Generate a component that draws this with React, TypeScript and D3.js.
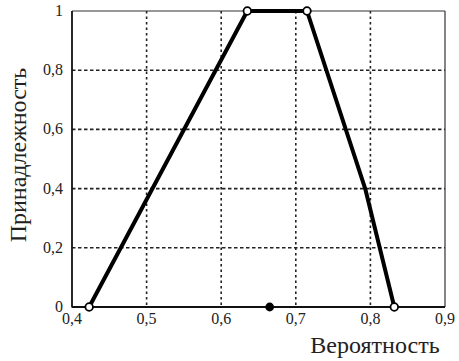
import React from "react";
import * as d3 from "d3";

const xTicks = [0.4, 0.5, 0.6, 0.7, 0.8, 0.9];
const yTicks = [0, 0.2, 0.4, 0.6, 0.8, 1];
const curveX = [0.423, 0.635, 0.715, 0.793, 0.832];
const curveY = [0, 1, 1, 0.4, 0];
const markerX = [0.423, 0.635, 0.715, 0.832];
const markerY = [0, 1, 1, 0];
const pointX = [0.665];
const pointY = [0];

const W = 459, H = 361;
const L = 72, R = 445, T = 11, B = 307;
const FONT = "Liberation Serif";

const fmt = (v: number) => (v === 0 ? "0" : v === 1 ? "1" : String(v).replace(".", ","));

export default function App() {
  const x = d3.scaleLinear().domain([0.4, 0.9]).range([L, R]);
  const y = d3.scaleLinear().domain([0, 1]).range([B, T]);
  const line = d3.line<number>().x((_, i) => x(curveX[i])).y((_, i) => y(curveY[i]));
  const ts = { fontFamily: FONT };
  return (
    <svg width={W} height={H} style={{ position: "absolute", left: 0, top: 0, background: "#fff", fontFamily: FONT }}>
      <rect x={0} y={0} width={W} height={H} fill="#fff" />
      {xTicks.slice(1, -1).map((t) => (
        <line key={"gx" + t} x1={x(t)} x2={x(t)} y1={T} y2={B} stroke="#222" strokeWidth={1.6} strokeDasharray="2.5,3" />
      ))}
      {yTicks.slice(1, -1).map((t) => (
        <line key={"gy" + t} x1={L} x2={R} y1={y(t)} y2={y(t)} stroke="#222" strokeWidth={1.6} strokeDasharray="3.5,2.5" />
      ))}
      <line x1={L} x2={R} y1={T} y2={T} stroke="#333" strokeWidth={1.2} />
      <line x1={R} x2={R} y1={T} y2={B} stroke="#333" strokeWidth={1.2} />
      <line x1={L} x2={L} y1={T} y2={B + 0.5} stroke="#111" strokeWidth={1.8} />
      <line x1={L} x2={R} y1={B} y2={B} stroke="#111" strokeWidth={1.8} />
      {xTicks.map((t) => (
        <text key={"tx" + t} x={x(t)} y={B + 17} textAnchor="middle" style={ts} fontSize={16} fill="#222">
          {fmt(t)}
        </text>
      ))}
      {yTicks.map((t) => (
        <text key={"ty" + t} x={L - 9} y={y(t) + 5} textAnchor="end" style={ts} fontSize={16} fill="#222">
          {fmt(t)}
        </text>
      ))}
      <path d={line(curveX) || ""} fill="none" stroke="#000" strokeWidth={4} strokeLinejoin="round" />
      {markerX.map((v, i) => (
        <circle key={"m" + i} cx={x(v)} cy={y(markerY[i])} r={3.8} fill="#fff" stroke="#000" strokeWidth={1.8} />
      ))}
      {pointX.map((v, i) => (
        <circle key={"p" + i} cx={x(v)} cy={y(pointY[i])} r={4.4} fill="#000" />
      ))}
      <text x={375} y={353} textAnchor="middle" style={ts} fontSize={24} fill="#222">
        Вероятность
      </text>
      <text transform="translate(26,155) rotate(-90)" textAnchor="middle" style={ts} fontSize={24} fill="#222">
        Принадлежность
      </text>
    </svg>
  );
}
